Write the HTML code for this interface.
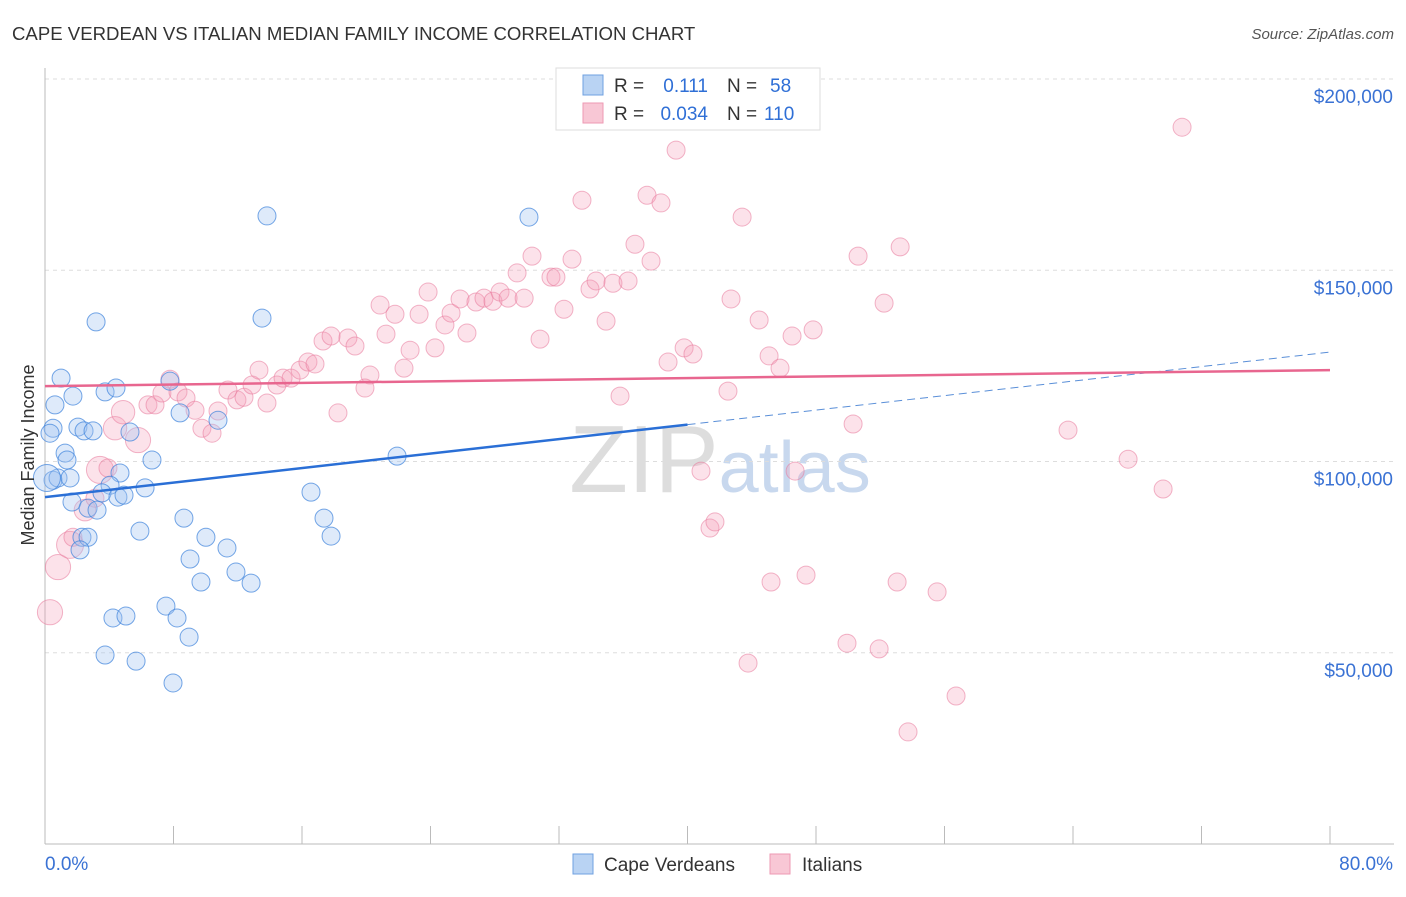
<!DOCTYPE html>
<html><head><meta charset="utf-8"><style>
body{margin:0;background:#fff;font-family:"Liberation Sans",sans-serif;}
svg text{font-family:"Liberation Sans",sans-serif;}
</style></head><body>
<svg id="chart" width="1406" height="892" xmlns="http://www.w3.org/2000/svg">
<text x="12" y="40" font-size="18.6" fill="#333">CAPE VERDEAN VS ITALIAN MEDIAN FAMILY INCOME CORRELATION CHART</text>
<text x="1394" y="39" font-size="15" fill="#555" text-anchor="end" font-style="italic">Source: ZipAtlas.com</text>
<text x="720" y="492" font-size="96" fill="#ddd" text-anchor="middle" font-family="Liberation Serif">ZIP<tspan fill="#c8d8ee" font-family="Liberation Sans" font-size="72">atlas</tspan></text>
<g id="grid"></g><g id="axes"></g><g id="marks"></g><g id="trends"></g>
<text transform="translate(34,455) rotate(-90)" font-size="18" fill="#333" text-anchor="middle">Median Family Income</text>
<g>
<rect x="556" y="68" width="264" height="62" fill="#fff" stroke="#ddd"/>
<rect x="583" y="75" width="20" height="20" fill="#b9d3f3" stroke="#6fa0e0"/>
<rect x="583" y="103" width="20" height="20" fill="#f8c7d5" stroke="#ee9ab3"/>
<text x="614" y="92" font-size="19" fill="#333">R =</text>
<text x="708" y="92" font-size="19" fill="#2f6fd6" text-anchor="end">0.111</text>
<text x="727" y="92" font-size="19" fill="#333">N =</text>
<text x="770" y="92" font-size="19" fill="#2f6fd6">58</text>
<text x="614" y="120" font-size="19" fill="#333">R =</text>
<text x="708" y="120" font-size="19" fill="#2f6fd6" text-anchor="end">0.034</text>
<text x="727" y="120" font-size="19" fill="#333">N =</text>
<text x="764" y="120" font-size="19" fill="#2f6fd6">110</text>
</g>
<g>
<rect x="573" y="854" width="20" height="20" fill="#b9d3f3" stroke="#6fa0e0"/>
<text x="604" y="871" font-size="19" fill="#333">Cape Verdeans</text>
<rect x="770" y="854" width="20" height="20" fill="#f8c7d5" stroke="#ee9ab3"/>
<text x="802" y="871" font-size="19" fill="#333">Italians</text>
</g>
</svg>
<script>
const yTicks=[50000,100000,150000,200000];
const yTickLabels=["$50,000","$100,000","$150,000","$200,000"];
const xTickLabels=["0.0%","80.0%"];
const blueX=[0.62,1.0,1.74,0.5,0.31,2.05,2.43,2.99,1.25,1.37,0.5,0.81,1.56,1.68,2.68,3.24,2.3,2.68,2.18,3.74,4.42,4.67,4.05,3.55,4.54,4.92,5.29,3.18,6.66,6.23,5.91,7.78,8.41,10.77,8.65,9.03,10.02,11.33,9.71,11.89,12.83,7.53,8.22,8.97,4.23,5.04,3.74,5.67,7.97,13.82,13.51,16.56,17.37,17.81,21.92,30.13,0.12];
const blueY=[114.8,121.8,117.1,108.7,107.4,109.0,108.0,108.0,102.2,100.4,95.1,95.7,95.7,89.4,87.8,87.3,80.2,80.2,76.9,118.2,119.2,97.0,93.8,91.8,90.7,91.2,107.7,136.5,100.4,93.1,81.8,121.0,112.7,110.8,85.2,74.5,80.2,77.4,68.5,71.1,68.2,62.2,59.1,54.1,59.1,59.6,49.4,47.8,42.1,164.2,137.5,92.0,85.2,80.5,101.4,163.9,95.7];
const blueSize=[1,1,1,1,1,1,1,1,1,1,1,1,1,1,1,1,1,1,1,1,1,1,1,1,1,1,1,1,1,1,1,1,1,1,1,1,1,1,1,1,1,1,1,1,1,1,1,1,1,1,1,1,1,1,1,1,1.5];
const pinkX=[0.31,0.81,1.56,1.74,2.49,3.11,3.42,3.92,4.36,4.86,5.79,6.41,6.85,7.28,7.78,8.28,8.78,9.34,9.77,10.4,10.77,11.39,11.95,12.39,12.89,13.32,13.82,14.44,14.82,15.32,15.88,16.37,16.81,17.31,17.81,18.24,18.86,19.3,20.23,19.92,20.86,21.23,21.79,22.35,22.73,23.29,23.85,24.28,24.9,25.28,25.84,26.27,26.83,27.33,27.89,28.33,28.83,29.39,29.83,30.32,30.82,31.5,31.81,32.31,32.81,33.43,33.93,34.31,34.93,35.36,35.8,36.3,36.73,37.48,37.73,38.35,39.29,38.79,39.79,40.34,40.84,41.4,41.71,42.52,42.71,43.4,43.77,44.46,45.08,45.2,45.76,46.51,46.7,47.38,47.82,49.93,50.31,50.62,51.93,52.24,53.05,53.24,53.73,55.54,56.72,63.69,67.43,69.61,70.79];
const pinkY=[60.6,72.4,78.2,80.2,87.3,90.4,97.8,98.3,108.7,112.9,105.6,114.8,114.8,117.9,121.5,118.2,116.6,113.4,108.7,107.4,113.2,118.7,116.1,116.8,120.0,123.9,115.3,120.0,121.8,121.8,123.9,126.0,125.5,131.5,132.8,112.7,132.3,130.2,122.6,119.2,140.9,133.3,138.5,124.4,129.1,138.5,144.3,129.7,135.7,138.8,142.5,133.6,141.7,142.7,141.9,144.3,142.7,149.3,142.7,153.7,132.0,148.2,148.2,139.8,152.9,168.3,145.1,147.2,136.7,146.6,117.1,147.2,156.8,169.6,152.4,167.6,181.4,126.0,129.7,128.1,97.5,82.6,84.2,118.4,142.5,163.9,47.3,137.0,127.6,68.5,124.4,132.8,97.5,70.3,134.4,52.5,109.8,153.7,51.0,141.4,68.5,156.1,29.3,65.9,38.7,108.2,100.6,92.8,187.4];
const pinkSize=[1.4,1.4,1.5,1,1.2,1,1.5,1,1.3,1.3,1.4,1,1,1,1,1,1,1,1,1,1,1,1,1,1,1,1,1,1,1,1,1,1,1,1,1,1,1,1,1,1,1,1,1,1,1,1,1,1,1,1,1,1,1,1,1,1,1,1,1,1,1,1,1,1,1,1,1,1,1,1,1,1,1,1,1,1,1,1,1,1,1,1,1,1,1,1,1,1,1,1,1,1,1,1,1,1,1,1,1,1,1,1,1,1,1,1,1,1];
const blueTrend=[90.7,128.6];
const pinkTrend=[119.7,123.9];
const blueSolidEnd=40;

const X0=45,X1=1330,YB=844,YT=79;
const xs=v=>X0+(v/80)*(X1-X0);
const ys=v=>YB-(v/200000)*(YB-YT);
const ysk=v=>ys(v*1000);
const NS="http://www.w3.org/2000/svg";
function mk(tag,attrs,parent){const e=document.createElementNS(NS,tag);for(const k in attrs)e.setAttribute(k,attrs[k]);document.getElementById(parent).appendChild(e);return e;}

yTicks.forEach((t,i)=>{
  const g=mk('line',{x1:X0,x2:1394,y1:ys(t),y2:ys(t),stroke:'#ddd','stroke-dasharray':'4,4'},'grid');
  
  
  const tx=mk('text',{x:1393,y:ys(t)+24,'font-size':19,fill:'#3a72d4','text-anchor':'end'},'grid');
  tx.textContent=yTickLabels[i];
  
  
});
const ax=mk('line',{x1:X0,x2:X0,y1:68,y2:YB,stroke:'#bbb'},'axes');


const bx=mk('line',{x1:X0,x2:1394,y1:YB,y2:YB,stroke:'#bbb'},'axes');


for(let i=0;i<=10;i++){
  const tk=mk('line',{x1:xs(i*8),x2:xs(i*8),y1:YB,y2:YB-18,stroke:'#bbb'},'axes');
  
  
}
const l0=mk('text',{x:45,y:870,'font-size':19,fill:'#3a72d4'},'axes');l0.textContent=xTickLabels[0];


const l1=mk('text',{x:1393,y:870,'font-size':19,fill:'#3a72d4','text-anchor':'end'},'axes');l1.textContent=xTickLabels[1];



pinkX.forEach((x,i)=>{
  const c=mk('circle',{cx:xs(x),cy:ysk(pinkY[i]),r:9*(pinkSize[i]||1),fill:'rgba(244,160,186,0.3)',stroke:'rgba(232,120,155,0.55)','stroke-width':1},'marks');
  
  
});
blueX.forEach((x,i)=>{
  const c=mk('circle',{cx:xs(x),cy:ysk(blueY[i]),r:9*(blueSize[i]||1),fill:'rgba(160,196,240,0.35)',stroke:'rgba(60,130,220,0.7)','stroke-width':1},'marks');
  
  
});
const bm=blueTrend[0]+(blueTrend[1]-blueTrend[0])*blueSolidEnd/80;
const t1=mk('line',{x1:xs(0),y1:ysk(blueTrend[0]),x2:xs(blueSolidEnd),y2:ysk(bm),stroke:'#2a6fd6','stroke-width':2.5},'trends');


const t2=mk('line',{x1:xs(blueSolidEnd),y1:ysk(bm),x2:xs(80),y2:ysk(blueTrend[1]),stroke:'#5a8fd8','stroke-width':1,'stroke-dasharray':'8,5'},'trends');


const t3=mk('line',{x1:xs(0),y1:ysk(pinkTrend[0]),x2:xs(80),y2:ysk(pinkTrend[1]),stroke:'#e8668f','stroke-width':2.5},'trends');


</script>
</body></html>
